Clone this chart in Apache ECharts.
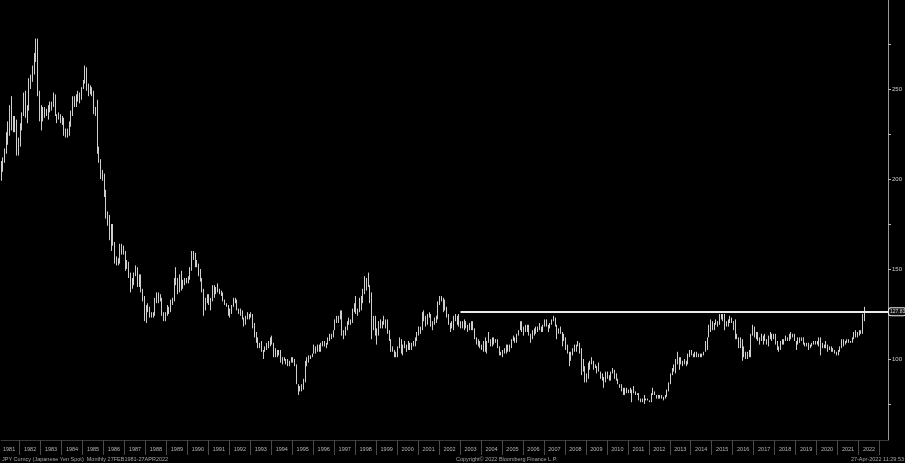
<!DOCTYPE html>
<html>
<head>
<meta charset="utf-8">
<style>html,body{margin:0;padding:0;background:#000;}#c{width:905px;height:463px;}</style>
<script src="https://cdn.jsdelivr.net/npm/echarts@6/dist/echarts.min.js"></script>
</head>
<body>
<div id="c"></div>
<script>
// USD/JPY monthly bars, Jan 1981 - Apr 2022
const startYear = 1981;
const firstOpen = 203;
const closes = [
205,206,210,215,225,225,239,230,231,234,215,220,
230,236,246,237,240,255,257,259,269,272,247,235,
240,237,239,237,240,240,242,247,236,234,235,232,
233,225,225,225,231,237,245,242,246,246,247,251,
254,260,251,251,251,248,237,237,217,211,202,200,
192,180,179,168,173,164,154,154,154,162,162,160,
153,153,147,140,144,147,150,142,146,138,133,122,
127,128,124,125,124,133,133,134,134,125,122,125,
128,127,132,133,144,144,138,146,139,143,143,143,
145,149,157,159,152,153,147,144,138,129,133,135,
131,133,140,137,138,138,137,137,133,130,130,125,
127,129,133,133,128,126,127,123,120,123,124,125,
125,118,115,111,107,106,105,104,106,108,109,112,
109,104,102,102,105,99,100,100,99,97,99,100,
99,97,86,84,84,85,88,97,99,101,102,103,
107,105,107,104,108,110,107,108,111,114,113,116,
121,120,124,127,116,114,118,121,121,120,128,130,
127,127,133,132,139,138,144,141,136,116,123,113,
116,119,118,119,121,121,115,110,106,104,102,102,
107,110,103,108,107,106,109,106,108,109,111,114,
116,117,126,124,119,124,125,119,119,122,123,131,
134,133,133,128,124,120,120,118,122,122,122,119,
120,118,118,119,119,120,120,117,111,110,110,107,
106,109,104,110,110,109,111,110,110,106,103,103,
104,105,107,105,108,111,112,112,113,116,120,118,
117,116,118,114,112,115,115,118,118,117,116,119,
121,118,118,120,122,123,119,116,115,115,111,112,
106,104,100,104,105,106,108,109,106,98,95,91,
90,98,99,99,95,96,95,93,90,90,86,93,
90,89,93,94,91,88,86,84,83,80,84,81,
82,82,83,81,81,80,77,77,77,78,78,77,
76,81,82,80,78,80,78,78,78,80,82,87,
91,93,94,97,101,99,98,98,98,98,102,105,
102,102,103,102,102,101,103,104,110,112,119,120,
117,120,120,119,124,122,124,121,120,121,123,120,
121,113,113,106,111,103,102,103,101,105,114,117,
113,112,111,111,111,112,110,110,113,114,112,113,
109,107,106,109,109,111,112,111,114,113,113,110,
109,111,111,111,108,108,109,106,108,108,110,109,
108,108,108,107,108,108,106,106,105,105,104,103,
105,107,111,109,110,111,109,110,111,114,113,115,
115,115,122,128
];
const highs = [
206,210,212,217,226,232,241,246,235,235,233,223,
231,237,248,249,241,256,258,263,270,278,278,249,
241,240,240,239,241,243,243,248,247,236,237,236,
235,234,228,228,232,238,246,246,247,249,248,251,
255,263,262,253,252,251,249,240,244,218,211,205,
203,194,182,180,175,175,165,157,156,164,164,163,
160,155,154,148,145,148,152,151,147,147,139,135,
130,131,129,126,126,134,137,137,136,134,126,126,
130,129,133,134,145,151,145,147,149,144,145,145,
146,151,160,160,159,155,153,150,145,139,134,136,
136,134,141,141,140,142,139,138,137,133,131,130,
128,130,134,134,133,128,128,127,123,124,126,125,
126,125,120,115,112,109,110,105,107,109,110,112,
113,109,106,105,105,105,101,101,100,100,99,101,
101,100,97,86,85,86,89,99,101,102,102,103,
108,107,108,108,109,110,110,109,112,114,114,116,
122,124,124,127,127,116,118,121,123,122,128,131,
135,128,134,135,139,146,145,148,141,137,124,124,
117,121,122,121,124,122,122,116,111,107,105,104,
107,112,111,108,110,108,110,109,109,110,112,115,
118,118,126,127,124,125,126,125,121,123,124,132,
135,135,134,133,129,125,120,121,124,125,124,125,
121,121,122,121,119,120,121,121,117,112,111,110,
108,110,112,110,115,111,112,112,111,111,107,104,
105,106,108,108,108,111,113,112,114,116,121,121,
118,119,119,119,114,116,117,118,118,120,118,119,
122,122,119,120,122,124,123,119,117,118,115,114,
112,108,104,104,106,108,108,110,109,106,100,96,
92,98,99,101,99,97,96,98,93,92,90,93,
93,91,93,95,94,92,89,86,86,84,84,84,
83,84,83,85,82,81,81,78,78,80,78,78,
77,81,84,82,80,80,80,80,79,80,83,87,
92,95,97,100,104,101,101,99,100,99,103,105,
105,103,104,104,103,103,103,104,110,112,119,122,
121,120,122,121,125,125,125,125,121,122,124,123,
121,122,114,112,112,111,107,104,104,105,114,119,
118,115,115,112,114,113,114,111,113,115,114,114,
114,110,107,110,111,111,113,112,114,115,114,114,
110,112,112,112,112,109,109,109,108,109,110,110,
110,112,112,109,108,110,108,107,107,106,105,104,
105,107,111,111,110,111,111,110,112,115,116,115,
116,116,125,129
];
const lows = [
199,199,204,209,214,219,224,227,226,226,213,213,
218,227,235,234,231,238,250,254,258,265,246,232,
227,232,234,235,233,237,238,240,235,231,233,231,
230,224,223,223,224,229,235,240,240,243,242,244,
250,253,249,246,247,246,236,235,214,209,200,199,
190,178,174,166,160,163,153,152,152,153,158,158,
149,150,145,137,139,141,146,140,140,137,132,121,
120,126,123,123,123,124,131,131,132,124,121,121,
124,125,126,130,132,141,136,137,138,139,141,142,
142,144,149,155,151,151,146,143,137,124,127,131,
130,127,132,134,136,137,136,135,132,130,129,124,
123,125,129,131,127,125,124,122,118,119,122,122,
123,117,112,109,106,106,104,100,104,105,106,107,
108,101,101,101,102,98,97,99,97,96,96,98,
98,96,86,80,82,82,83,87,96,98,100,101,
103,103,104,104,104,107,107,106,108,110,111,112,
116,120,120,122,113,111,113,116,119,119,120,126,
125,124,126,127,131,136,138,140,131,111,116,113,
108,113,117,117,119,117,114,110,104,104,101,101,
101,106,103,102,106,104,105,105,105,107,107,110,
113,114,116,121,118,119,123,118,116,119,120,122,
130,132,126,127,123,119,115,117,116,121,119,118,
117,117,116,117,115,116,116,116,111,108,107,106,
105,104,104,103,109,107,107,108,109,106,102,102,
101,103,103,104,104,106,110,109,109,113,116,115,
113,115,115,113,109,111,113,114,115,116,115,115,
118,118,115,117,119,121,118,111,114,114,107,110,
105,103,96,99,102,104,104,107,103,91,93,87,
87,89,94,97,94,95,92,93,89,88,84,87,
89,88,88,92,89,88,86,84,82,80,80,81,
81,81,76,81,80,80,77,76,76,75,77,77,
76,76,80,80,78,78,78,78,77,78,79,82,
86,91,93,92,97,94,97,96,97,96,97,101,
102,101,101,101,101,101,101,102,104,105,112,115,
116,116,119,118,119,122,121,116,118,118,120,120,
116,111,111,106,106,99,101,100,100,101,101,113,
112,111,110,108,110,108,110,108,107,111,110,111,
108,105,104,105,108,108,110,110,110,111,112,110,
105,108,109,110,108,107,107,105,106,107,108,108,
108,107,102,106,106,106,104,105,104,104,103,102,
102,104,106,107,108,109,109,109,109,111,112,112,
113,114,114,121
];
const yearLabels = [];
for (let y = 1981; y <= 2022; y++) yearLabels.push(y);
const valueTicks = [100, 150, 200, 250];
const minorTicks = [75, 100, 125, 150, 175, 200, 225, 250, 275];
const levelLine = 126.3;
const levelStart = 2003.02;
const lastPriceText = '127.83';

const bars = closes.map((c, i) => {
  const t = startYear + (i + 0.5) / 12;
  const o = i === 0 ? firstOpen : closes[i - 1];
  return [t, o, c, lows[i], highs[i]];
});

const xMin = 1981.119, xMax = 2023.405;
const chart = echarts.init(document.getElementById('c'), null, {renderer: 'canvas'});
chart.setOption({
  backgroundColor: '#000',
  animation: false,
  grid: {left: 0, right: 17, top: 0, bottom: 23},
  xAxis: {
    type: 'value', min: xMin, max: xMax,
    splitLine: {show: false},
    axisLine: {show: true, lineStyle: {color: '#3a3a3a', width: 1}},
    axisTick: {show: true, length: 15, customValues: yearLabels.map(y => y + 1), lineStyle: {color: '#4a4a4a'}},
    axisLabel: {
      customValues: yearLabels.map(y => y + 0.5),
      formatter: v => String(Math.floor(v)),
      color: '#b5b5b5', fontSize: 5.5, margin: 6, fontFamily: 'Liberation Sans'
    }
  },
  yAxis: {
    type: 'value', position: 'right', min: 55, max: 299.44,
    splitLine: {show: false},
    axisLine: {show: true, lineStyle: {color: '#9a9a9a', width: 1}},
    axisTick: {show: true, length: 3, customValues: minorTicks, lineStyle: {color: '#bbb'}},
    axisLabel: {customValues: valueTicks, color: '#cfcfcf', fontSize: 6, margin: 4, fontFamily: 'Liberation Sans'}
  },
  series: [{
    type: 'candlestick',
    clip: false,
    barWidth: 1,
    encode: {x: 0, y: [1, 2, 3, 4]},
    data: bars,
    itemStyle: {color: '#cfcfcf', color0: '#cfcfcf', borderColor: '#cfcfcf', borderColor0: '#cfcfcf', borderWidth: 1},
    markLine: {
      silent: true,
      symbol: ['none', 'none'],
      lineStyle: {color: '#ececec', width: 2, type: 'solid'},
      label: {
        show: true, position: 'end', distance: 1,
        formatter: lastPriceText,
        color: '#ddd', fontSize: 5, fontFamily: 'Liberation Sans',
        backgroundColor: '#111', borderColor: '#eee', borderWidth: 1, borderRadius: 2,
        padding: [1, 0, 1, 1]
      },
      data: [[{coord: [levelStart, levelLine]}, {coord: [xMax, levelLine]}]]
    }
  }],
  graphic: [
    {type: 'text', left: 2, top: 456, style: {text: 'JPY Curncy (Japanese Yen Spot)  Monthly 27FEB1981-27APR2022', fill: '#a8a8a8', font: '5.5px Liberation Sans'}},
    {type: 'text', left: 456, top: 456, style: {text: 'Copyright\u00A9 2022 Bloomberg Finance L.P.', fill: '#a8a8a8', font: '5.5px Liberation Sans'}},
    {type: 'text', right: 1, top: 456, style: {text: '27-Apr-2022 11:29:53', fill: '#a8a8a8', font: '5.5px Liberation Sans'}}
  ]
});
</script>
</body>
</html>
